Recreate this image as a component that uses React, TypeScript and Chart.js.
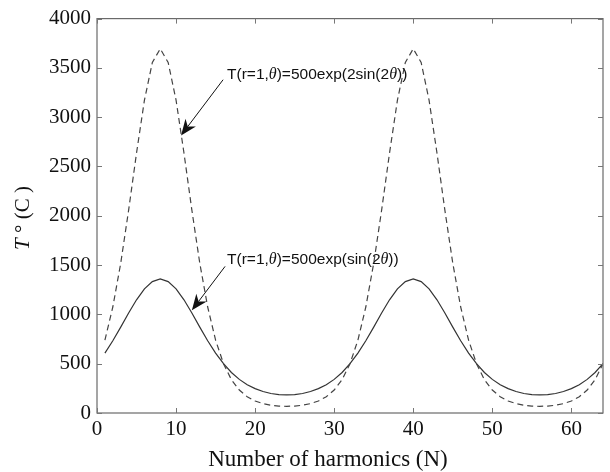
import React, { useEffect, useRef } from "react";
import { Chart, registerables } from "chart.js";

Chart.register(...registerables);

const harmonics = [
  1, 2, 3, 4, 5, 6, 7, 8, 9, 10, 11, 12, 13, 14, 15, 16,
  17, 18, 19, 20, 21, 22, 23, 24, 25, 26, 27, 28, 29, 30, 31, 32,
  33, 34, 35, 36, 37, 38, 39, 40, 41, 42, 43, 44, 45, 46, 47, 48,
  49, 50, 51, 52, 53, 54, 55, 56, 57, 58, 59, 60, 61, 62, 63, 64,
];

const tempSin = [
  608, 733, 871, 1014, 1148, 1259, 1333, 1359, 1333, 1259, 1148, 1014, 871, 733, 608, 500,
  411, 341, 287, 247, 218, 198, 187, 184, 187, 198, 218, 247, 287, 341, 411, 500,
  608, 733, 871, 1014, 1148, 1259, 1333, 1359, 1333, 1259, 1148, 1014, 871, 733, 608, 500,
  411, 341, 287, 247, 218, 198, 187, 184, 187, 198, 218, 247, 287, 341, 411, 500,
];

const temp2Sin = [
  739, 1075, 1519, 2057, 2637, 3173, 3555, 3694, 3555, 3173, 2637, 2057, 1519, 1075, 739, 500,
  338, 233, 165, 122, 95, 79, 70, 68, 70, 79, 95, 122, 165, 233, 338, 500,
  739, 1075, 1519, 2057, 2637, 3173, 3555, 3694, 3555, 3173, 2637, 2057, 1519, 1075, 739, 500,
  338, 233, 165, 122, 95, 79, 70, 68, 70, 79, 95, 122, 165, 233, 338, 500,
];

const xTickValues = [0, 10, 20, 30, 40, 50, 60];
const yTickValues = [0, 500, 1000, 1500, 2000, 2500, 3000, 3500, 4000];

const xTitle = "Number of harmonics (N)";

// annotation: [textX, textBaselineY, arrowFromX, arrowFromY, arrowToX, arrowToY]
const note2SinText = ["T(r=1,", "θ", ")=500exp(2sin(2", "θ", "))"];
const note2SinPos = [16.45, 3389, 15.95, 3380, 10.63, 2815];
const noteSinText = ["T(r=1,", "θ", ")=500exp(sin(2", "θ", "))"];
const noteSinPos = [16.45, 1516, 16.2, 1487, 12.0, 1041];

const SERIF = "'Liberation Serif', 'DejaVu Serif', serif";
const SANS = "'Liberation Sans', Arial, sans-serif";

function drawArrow(ctx: CanvasRenderingContext2D, x1: number, y1: number, x2: number, y2: number) {
  const ang = Math.atan2(y2 - y1, x2 - x1);
  const len = 16;
  const half = 6.5;
  ctx.save();
  ctx.strokeStyle = "#111";
  ctx.fillStyle = "#111";
  ctx.lineWidth = 1;
  ctx.beginPath();
  ctx.moveTo(x1, y1);
  ctx.lineTo(x2 - Math.cos(ang) * len * 0.7, y2 - Math.sin(ang) * len * 0.7);
  ctx.stroke();
  const bx = x2 - Math.cos(ang) * len;
  const by = y2 - Math.sin(ang) * len;
  const nx = -Math.sin(ang);
  const ny = Math.cos(ang);
  ctx.beginPath();
  ctx.moveTo(x2, y2);
  ctx.lineTo(bx + nx * half, by + ny * half);
  ctx.lineTo(x2 - Math.cos(ang) * len * 0.7, y2 - Math.sin(ang) * len * 0.7);
  ctx.lineTo(bx - nx * half, by - ny * half);
  ctx.closePath();
  ctx.fill();
  ctx.restore();
}

function drawNote(ctx: CanvasRenderingContext2D, parts: string[], x: number, y: number) {
  let cx = x;
  ctx.textBaseline = "alphabetic";
  ctx.textAlign = "left";
  ctx.fillStyle = "#111";
  parts.forEach((p, i) => {
    ctx.font = i % 2 === 1 ? `italic 16px ${SERIF}` : `15.5px ${SANS}`;
    ctx.fillText(p, cx, y);
    cx += ctx.measureText(p).width;
  });
}

const decorPlugin = {
  id: "decor",
  afterDraw(chart: any) {
    const ctx: CanvasRenderingContext2D = chart.ctx;
    const { left, right, top, bottom } = chart.chartArea;
    const xs = chart.scales.x;
    const ys = chart.scales.y;
    ctx.save();
    ctx.strokeStyle = "#6a6a6a";
    ctx.lineWidth = 1.2;
    ctx.strokeRect(left, top, right - left, bottom - top);
    ctx.lineWidth = 1;
    ctx.strokeStyle = "#777";
    const tl = 5;
    ctx.beginPath();
    xTickValues.forEach((v) => {
      const px = Math.round(xs.getPixelForValue(v)) + 0.5;
      ctx.moveTo(px, bottom);
      ctx.lineTo(px, bottom - tl);
      ctx.moveTo(px, top);
      ctx.lineTo(px, top + tl);
    });
    yTickValues.forEach((v) => {
      const py = Math.round(ys.getPixelForValue(v)) + 0.5;
      ctx.moveTo(left, py);
      ctx.lineTo(left + tl, py);
      ctx.moveTo(right, py);
      ctx.lineTo(right - tl, py);
    });
    ctx.stroke();

    ctx.fillStyle = "#111";
    ctx.font = `23px ${SERIF}`;
    ctx.textAlign = "center";
    ctx.textBaseline = "alphabetic";
    ctx.fillText(xTitle, 328, 466);

    ctx.save();
    ctx.translate(29, 218);
    ctx.rotate(-Math.PI / 2);
    const parts = [
      { t: "T", f: `italic 21px ${SERIF}` },
      { t: " ° (C )", f: `21px ${SERIF}` },
    ];
    let total = 0;
    parts.forEach((p) => {
      ctx.font = p.f;
      total += ctx.measureText(p.t).width;
    });
    let cx = -total / 2;
    ctx.textAlign = "left";
    parts.forEach((p) => {
      ctx.font = p.f;
      ctx.fillText(p.t, cx, 0);
      cx += ctx.measureText(p.t).width;
    });
    ctx.restore();

    const notes: [string[], number[]][] = [
      [note2SinText, note2SinPos],
      [noteSinText, noteSinPos],
    ];
    notes.forEach(([txt, pos]) => {
      drawNote(ctx, txt, xs.getPixelForValue(pos[0]), ys.getPixelForValue(pos[1]));
      drawArrow(
        ctx,
        xs.getPixelForValue(pos[2]),
        ys.getPixelForValue(pos[3]),
        xs.getPixelForValue(pos[4]),
        ys.getPixelForValue(pos[5])
      );
    });
    ctx.restore();
  },
};

export default function App() {
  const ref = useRef<HTMLCanvasElement | null>(null);
  useEffect(() => {
    if (!ref.current) return;
    const chart = new Chart(ref.current, {
      type: "line",
      data: {
        datasets: [
          {
            label: "500exp(2sin(2θ))",
            data: harmonics.map((n, i) => ({ x: n, y: temp2Sin[i] })),
            borderColor: "#444",
            borderWidth: 1.2,
            borderDash: [6, 4],
            pointRadius: 0,
            tension: 0,
            fill: false,
          },
          {
            label: "500exp(sin(2θ))",
            data: harmonics.map((n, i) => ({ x: n, y: tempSin[i] })),
            borderColor: "#333",
            borderWidth: 1.2,
            pointRadius: 0,
            tension: 0,
            fill: false,
          },
        ],
      },
      options: {
        responsive: false,
        animation: false,
        layout: { padding: { top: 10, right: 7, left: 0, bottom: 0 } },
        plugins: { legend: { display: false }, tooltip: { enabled: false } },
        scales: {
          x: {
            type: "linear",
            min: 0,
            max: 64,
            grid: { display: false, drawTicks: false },
            border: { display: false },
            afterFit: (s: any) => {
              s.height = 59;
            },
            ticks: {
              stepSize: 10,
              includeBounds: false,
              padding: 4,
              maxRotation: 0,
              color: "#111",
              font: { family: SERIF, size: 21 },
              callback: (v: any) => (Number(v) % 10 === 0 ? String(v) : ""),
            },
          },
          y: {
            type: "linear",
            min: 0,
            max: 4000,
            grid: { display: false, drawTicks: false },
            border: { display: false },
            afterFit: (s: any) => {
              s.width = 97;
            },
            ticks: {
              stepSize: 500,
              padding: 6,
              color: "#111",
              font: { family: SERIF, size: 21 },
              callback: (v: any) => String(v),
            },
          },
        },
      },
      plugins: [decorPlugin],
    });
    return () => chart.destroy();
  }, []);
  return (
    <div style={{ position: "fixed", left: 0, top: 0, width: 610, height: 472, background: "#fff" }}>
      <canvas ref={ref} width={610} height={472} style={{ display: "block" }} />
    </div>
  );
}
